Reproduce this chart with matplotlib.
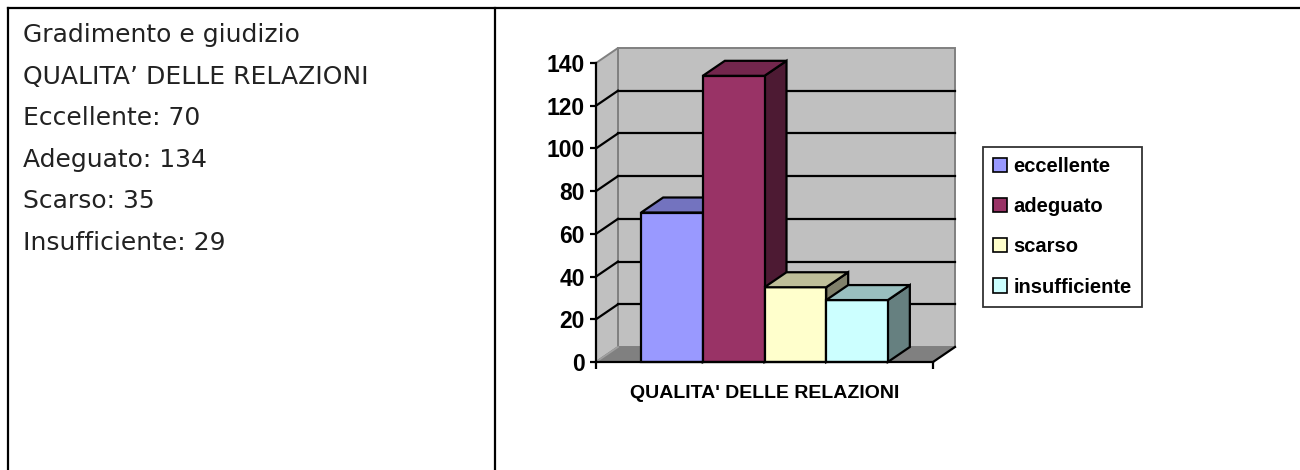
import numpy as np
import matplotlib
matplotlib.use("Agg")
import matplotlib.pyplot as plt
from matplotlib.patches import Polygon, Patch
from matplotlib.lines import Line2D

""" data """
title_lines = ["Gradimento e giudizio", "QUALITA\u2019 DELLE RELAZIONI"]
text_labels = ["Eccellente", "Adeguato", "Scarso", "Insufficiente"]
legend_labels = ["eccellente", "adeguato", "scarso", "insufficiente"]
values = [70, 134, 35, 29]
category = "QUALITA' DELLE RELAZIONI"
yticks = [0, 20, 40, 60, 80, 100, 120, 140]

front_colors = ["#9999FF", "#993366", "#FFFFCC", "#CCFFFF"]
top_colors = ["#7373BF", "#73264D", "#BFBF99", "#99BFBF"]
side_colors = ["#4D4D80", "#4D1A33", "#80806A", "#668080"]

W, H = 1300, 470
fig = plt.figure(figsize=(W / 100, H / 100), dpi=100)

def fx(px):
    return px / W

def fy(py):
    return 1 - py / H

""" table lines """
lw_tab = 1.6
fig.add_artist(Line2D([fx(8), fx(1300)], [fy(8), fy(8)], color="black", lw=lw_tab))
fig.add_artist(Line2D([fx(8), fx(8)], [fy(8), fy(470)], color="black", lw=lw_tab))
fig.add_artist(Line2D([fx(495), fx(495)], [fy(8), fy(470)], color="black", lw=lw_tab))

""" left text """
lines = title_lines + ["%s: %d" % (l, v) for l, v in zip(text_labels, values)]
for i, s in enumerate(lines):
    fig.text(fx(23), fy(42 + i * 41.6), s, fontsize=18, family="DejaVu Sans",
             color="#222222", va="baseline", ha="left")

""" chart """
ax = fig.add_axes([fx(596), fy(362), fx(933) - fx(596), fy(63) - fy(362)])
ax.set_xlim(-0.5, 0.5)
ax.set_ylim(0, 140)
ax.patch.set_visible(False)
for s in ["top", "right"]:
    ax.spines[s].set_visible(False)
for s in ["left", "bottom"]:
    ax.spines[s].set_linewidth(1.6)
    ax.spines[s].set_zorder(20)

dx = 22 / 337.0          # depth in x data units
dy = 15 / (299 / 140.0)  # depth in y data units
x0, x1 = -0.5, 0.5
ymax = 140

gray_edge = "#808080"
# back wall
ax.add_patch(Polygon([(x0 + dx, dy), (x1 + dx, dy), (x1 + dx, ymax + dy), (x0 + dx, ymax + dy)],
                     closed=True, fc="#C0C0C0", ec=gray_edge, lw=1.4, clip_on=False, zorder=0.5))
# left wall
ax.add_patch(Polygon([(x0, 0), (x0 + dx, dy), (x0 + dx, ymax + dy), (x0, ymax)],
                     closed=True, fc="#C0C0C0", ec=gray_edge, lw=1.4, clip_on=False, zorder=0.6))
# floor
ax.add_patch(Polygon([(x0, 0), (x1, 0), (x1 + dx, dy), (x0 + dx, dy)],
                     closed=True, fc="#808080", ec="none", clip_on=False, zorder=0.7))
ax.plot([x1, x1 + dx], [0, dy], color="black", lw=1.6, clip_on=False, zorder=0.8)
ax.plot([x0, x0 + dx], [0, dy], color="#A0A0A0", lw=1.2, clip_on=False, zorder=0.8)

# grid lines
for t in yticks[1:-1]:
    ax.plot([x0 + dx, x1 + dx], [t + dy, t + dy], color="black", lw=1.6, clip_on=False, zorder=0.9)
    ax.plot([x0, x0 + dx], [t, t + dy], color="black", lw=1.6, clip_on=False, zorder=0.9)

# bars
w = 0.183
xs = (np.arange(len(values)) - 1.5) * w
bars = ax.bar(xs, values, width=w, color=front_colors, edgecolor="black", linewidth=1.6)
for i, (b, v) in enumerate(zip(bars, values)):
    l = b.get_x()
    r = l + w
    b.set_zorder(3 + i)
    b.set_clip_on(False)
    ax.add_patch(Polygon([(l, v), (r, v), (r + dx, v + dy), (l + dx, v + dy)], closed=True,
                         fc=top_colors[i], ec="black", lw=1.6, clip_on=False, zorder=3 + i))
    ax.add_patch(Polygon([(r, 0), (r + dx, dy), (r + dx, v + dy), (r, v)], closed=True,
                         fc=side_colors[i], ec="black", lw=1.6, clip_on=False, zorder=2.5 + i))

# axes ticks
ax.set_yticks(yticks)
ax.set_yticklabels([str(t) for t in yticks], fontsize=16.5, fontweight="bold",
                   family="Liberation Sans")
ax.tick_params(axis="y", direction="out", length=4, width=1.6, pad=4)
ax.set_xticks([x0, x1])
ax.set_xticklabels(["", ""])
ax.tick_params(axis="x", direction="out", length=5, width=1.6)
ax.set_xlabel(category, fontsize=14, fontweight="bold", family="Liberation Sans", labelpad=8)

# legend
handles = [Patch(facecolor=c, edgecolor="black", linewidth=1.2) for c in front_colors]
leg = fig.legend(handles, legend_labels, loc="upper left",
                 bbox_to_anchor=(fx(983), fy(147)), frameon=True, fancybox=False,
                 prop={"family": "Liberation Sans", "weight": "bold", "size": 14.5},
                 handlelength=0.7, handleheight=0.7, handletextpad=0.3,
                 labelspacing=1.05, borderpad=0.5, borderaxespad=0)
leg.get_frame().set_edgecolor("black")
leg.get_frame().set_linewidth(1.3)

fig.savefig("out.png", dpi=100)
